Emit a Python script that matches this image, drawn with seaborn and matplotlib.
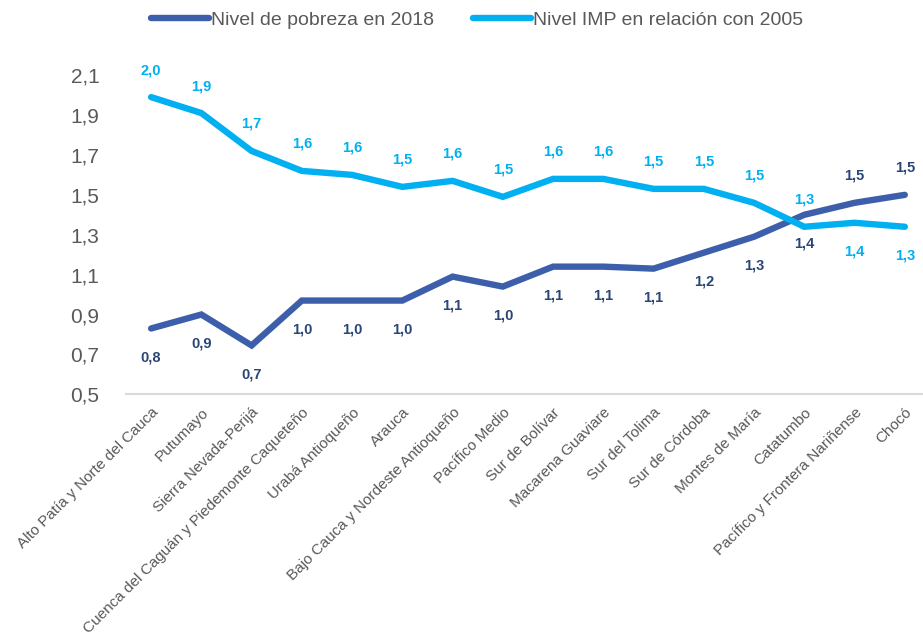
import pandas as pd
import matplotlib.pyplot as plt
import seaborn as sns
from matplotlib.lines import Line2D
from matplotlib.ticker import FuncFormatter


regiones = ['Alto Patía y Norte del Cauca', 'Putumayo', 'Sierra Nevada-Perijá',
            'Cuenca del Caguán y Piedemonte Caqueteño', 'Urabá Antioqueño', 'Arauca',
            'Bajo Cauca y Nordeste Antioqueño', 'Pacífico Medio', 'Sur de Bolívar',
            'Macarena Guaviare', 'Sur del Tolima', 'Sur de Córdoba', 'Montes de María',
            'Catatumbo', 'Pacífico y Frontera Nariñense', 'Chocó']
pobreza_2018 = [0.83, 0.90, 0.745, 0.97, 0.97, 0.97, 1.09, 1.04, 1.14, 1.14,
                1.13, 1.21, 1.29, 1.40, 1.46, 1.50]
imp_2005 = [1.99, 1.91, 1.72, 1.62, 1.60, 1.54, 1.57, 1.49, 1.58, 1.58,
            1.53, 1.53, 1.46, 1.34, 1.36, 1.34]
# True = label above the point
arriba_pobreza = [False] * 13 + [False, True, True]
arriba_imp = [True] * 13 + [True, False, False]

series = ['Nivel de pobreza en 2018', 'Nivel IMP en relación con 2005']
colores = {series[0]: '#3D5FAB', series[1]: '#00B0F0'}
colores_texto = {series[0]: '#2A4677', series[1]: '#00B0F0'}

plt.rcParams['font.family'] = ['Liberation Sans', 'DejaVu Sans']

data = pd.DataFrame({
    'region': regiones * 2,
    'valor': pobreza_2018 + imp_2005,
    'serie': [series[0]] * len(regiones) + [series[1]] * len(regiones),
})

fig = plt.figure(figsize=(9.23, 6.37), dpi=100)
ax = fig.add_axes([0.1365, 0.381, 0.871, 0.501])

sns.lineplot(data=data, x='region', y='valor', hue='serie', palette=colores,
             sort=False, linewidth=4.6, ax=ax, legend=False)
for line in ax.lines:
    line.set_solid_capstyle('round')
    line.set_solid_joinstyle('miter')

for nombre, valores, arriba in [(series[0], pobreza_2018, arriba_pobreza),
                                (series[1], imp_2005, arriba_imp)]:
    for i, (v, up) in enumerate(zip(valores, arriba)):
        ax.annotate(f'{v:.1f}'.replace('.', ','), (i, v),
                    xytext=(0, 27 if up else -29), textcoords='offset pixels',
                    ha='center', va='center', fontsize=10.5, fontweight='bold',
                    color=colores_texto[nombre])

ax.set_xlim(-0.5, len(regiones) - 0.5)
ax.set_ylim(0.5, 2.1)
ax.set_yticks([0.5, 0.7, 0.9, 1.1, 1.3, 1.5, 1.7, 1.9, 2.1])
ax.yaxis.set_major_formatter(FuncFormatter(lambda v, p: f'{v:.1f}'.replace('.', ',')))
ax.tick_params(axis='y', length=0, pad=19, labelsize=15, labelcolor='#595959')
ax.tick_params(axis='x', length=0, pad=8, labelsize=11, labelcolor='#595959')
plt.setp(ax.get_xticklabels(), rotation=45, ha='right', rotation_mode='anchor')
ax.set_xlabel('')
ax.set_ylabel('')

for s in ['top', 'right', 'left']:
    ax.spines[s].set_visible(False)
ax.spines['bottom'].set_color('#D9D9D9')
ax.spines['bottom'].set_linewidth(1.5)

handles = [Line2D([], [], color=colores[s], linewidth=4.6, solid_capstyle='round') for s in series]
fig.legend(handles, series, loc='center', bbox_to_anchor=(0.517, 0.968), ncol=2,
           frameon=False, fontsize=14, labelcolor='#595959', handlelength=3.0,
           handletextpad=0.1, columnspacing=2.0)

fig.savefig('out.png', dpi=100)
